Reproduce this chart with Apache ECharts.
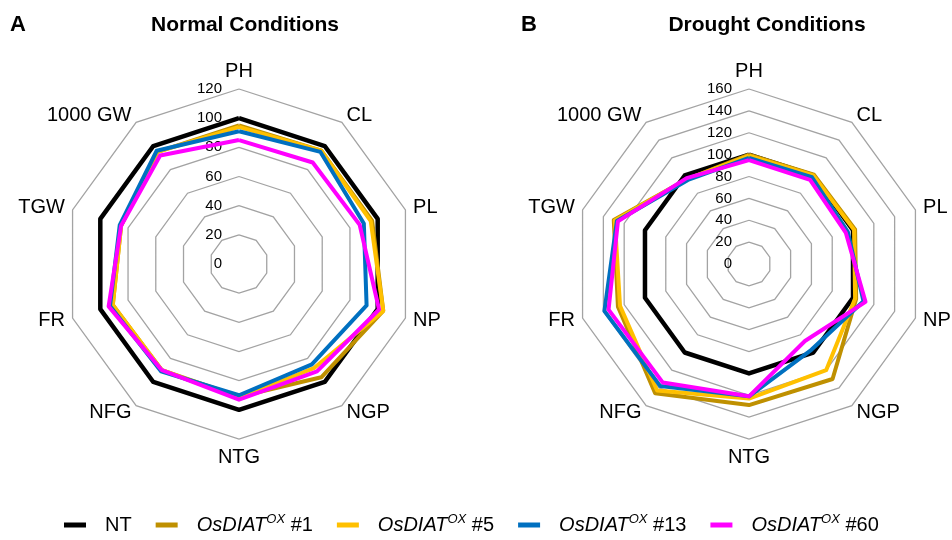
<!DOCTYPE html>
<html>
<head>
<meta charset="utf-8">
<script src="https://cdn.jsdelivr.net/npm/echarts@6/dist/echarts.min.js"></script>
<style>
  html, body { margin: 0; padding: 0; background: #fff; }
  #chart { width: 952px; height: 540px; }
</style>
</head>
<body>
<div id="chart"></div>
<script>
// traits, clockwise from the top
const traits = ['PH', 'CL', 'PL', 'NP', 'NGP', 'NTG', 'NFG', 'FR', 'TGW', '1000 GW'];
const lines = ['NT', 'OsDIATOX #1', 'OsDIATOX #5', 'OsDIATOX #13', 'OsDIATOX #60'];
const lineColors = ['#000000', '#BF9000', '#FFC000', '#0070C0', '#FF00FF'];

// relative values (%), normal conditions
const normalNT  = [100, 100, 100, 100, 100, 100, 100, 100, 100, 100];
const normal1   = [95, 96, 96, 104, 96, 91, 90, 91, 85, 95];
const normal5   = [94, 96, 95, 104, 88, 92, 90, 91, 85, 95];
const normal13  = [91, 95, 90, 92, 85, 90, 91, 93, 86, 96];
const normal60  = [85, 86, 87, 101, 91, 93, 90, 94, 85, 92];

// relative values (%), drought conditions
const droughtNT = [100, 100, 100, 100, 100, 100, 100, 100, 100, 100];
const drought1  = [100, 101, 102, 103, 130, 129, 146, 126, 130, 96];
const drought5  = [99, 100, 101, 102, 120, 123, 143, 124, 129, 96];
const drought13 = [97, 98, 95, 110, 97, 121, 138, 139, 127, 95];
const drought60 = [95, 95, 93, 112, 87, 121, 134, 135, 126, 97];

const normalMax = 120;
const droughtMax = 160;

// echarts lays indicators out counter-clockwise, the figure goes clockwise
const ccw = arr => [arr[0]].concat(arr.slice(1).reverse());

const font = "'Liberation Sans', Arial, sans-serif";

function radarCfg(cx, max) {
  const names = ccw(traits);
  return {
    center: [cx, 264],
    radius: 175,
    shape: 'polygon',
    startAngle: 90,
    splitNumber: max / 20,
    nameGap: 8,
    axisName: { color: '#000', fontSize: 20, fontFamily: font },
    indicator: names.map((n, i) => i === 0
      ? { name: n, min: 0, max: max, axisLabel: { show: true } }
      : { name: n, min: 0, max: max }),
    axisLine: { show: false },
    axisTick: { show: false },
    axisLabel: { show: false, color: '#000', fontSize: 15, fontFamily: font, margin: 17 },
    splitLine: { lineStyle: { color: '#a3a3a3', width: 1.3 } },
    splitArea: { show: false }
  };
}

function seriesCfg(radarIndex, sets) {
  return {
    type: 'radar',
    radarIndex: radarIndex,
    symbol: 'none',
    silent: true,
    data: sets.map((vals, i) => ({
      name: lines[i],
      value: ccw(vals),
      itemStyle: { color: lineColors[i] },
      lineStyle: { color: lineColors[i], width: i === 0 ? 4.5 : 4 }
    }))
  };
}

const chart = echarts.init(document.getElementById('chart'), null, { renderer: 'canvas' });

chart.setOption({
  animation: false,
  title: [
    { text: 'A', left: 5, top: 9, textStyle: { fontSize: 22, fontWeight: 'bold', color: '#000', fontFamily: font } },
    { text: 'Normal Conditions', left: 240, top: 10, textAlign: 'center', textStyle: { fontSize: 21, fontWeight: 'bold', color: '#000', fontFamily: font } },
    { text: 'B', left: 516, top: 9, textStyle: { fontSize: 22, fontWeight: 'bold', color: '#000', fontFamily: font } },
    { text: 'Drought Conditions', left: 762, top: 10, textAlign: 'center', textStyle: { fontSize: 21, fontWeight: 'bold', color: '#000', fontFamily: font } }
  ],
  legend: {
    data: lines,
    left: 59,
    top: 508,
    icon: 'rect',
    itemWidth: 22,
    itemHeight: 5,
    itemGap: 24,
    formatter: name => {
      if (name === 'NT') return '{n|NT}';
      return '{i|OsDIAT}{s|OX}{n| ' + name.split(' ')[1] + '}';
    },
    textStyle: {
      fontFamily: font,
      color: '#000',
      padding: [0, 0, 0, 14],
      rich: {
        n: { fontSize: 20, lineHeight: 24, fontFamily: font, color: '#000' },
        i: { fontSize: 20, lineHeight: 24, fontStyle: 'italic', fontFamily: font, color: '#000' },
        s: { fontSize: 13, lineHeight: 13, fontStyle: 'italic', verticalAlign: 'top', fontFamily: font, color: '#000' }
      }
    }
  },
  radar: [radarCfg(239, normalMax), radarCfg(749, droughtMax)],
  series: [
    seriesCfg(0, [normalNT, normal1, normal5, normal13, normal60]),
    seriesCfg(1, [droughtNT, drought1, drought5, drought13, drought60])
  ]
});
</script>
</body>
</html>
